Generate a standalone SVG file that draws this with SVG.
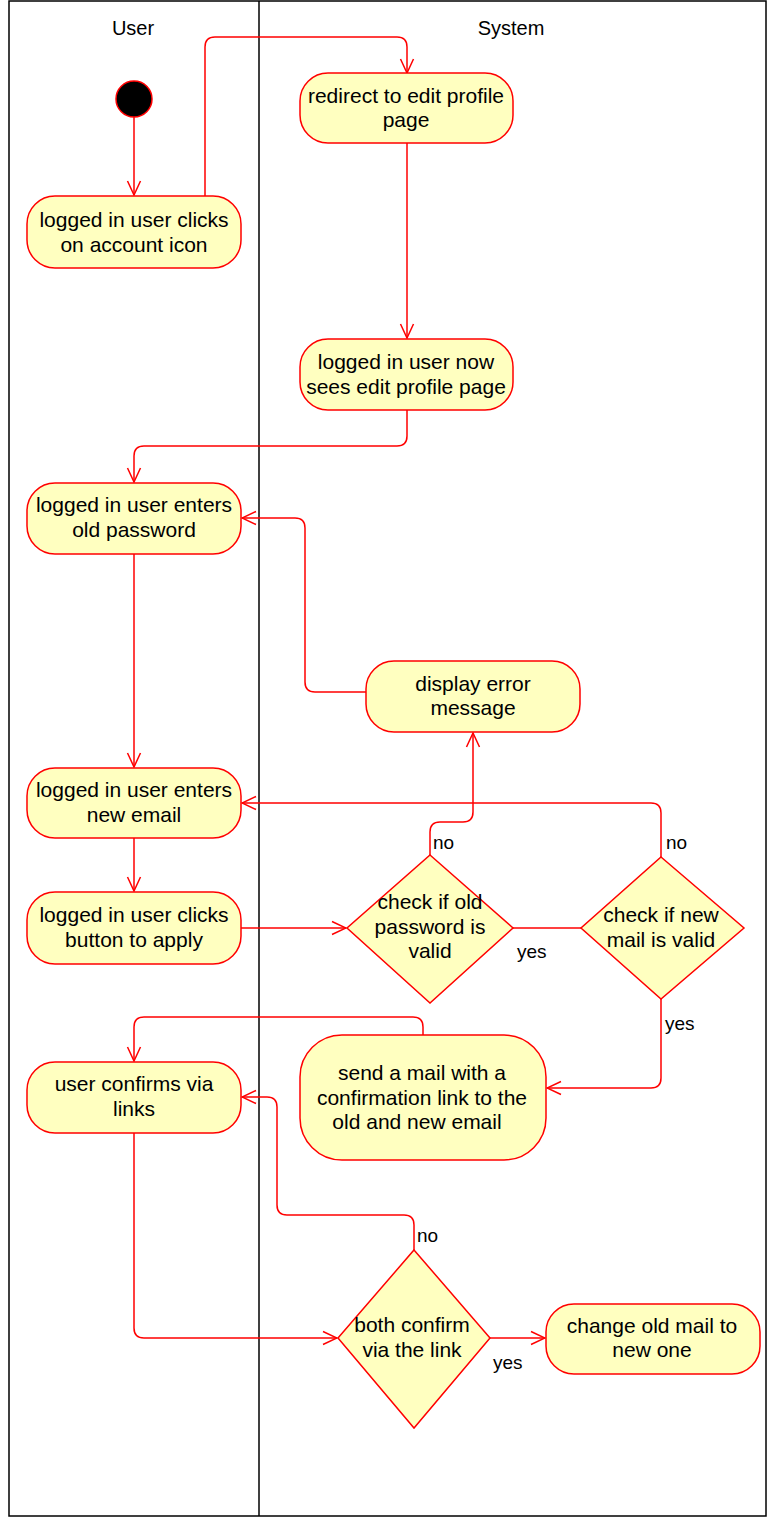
<svg xmlns="http://www.w3.org/2000/svg" width="768" height="1518" viewBox="0 0 768 1518">
<defs>
<style>
.lane{fill:none;stroke:#000;stroke-width:1.5}
.act{fill:#ffffc0;stroke:#ff0000;stroke-width:1.5}
.edge{fill:none;stroke:#ff0000;stroke-width:1.5}
.t{font-family:"Liberation Sans",Arial,sans-serif;font-size:21px;fill:#000;text-anchor:middle}
.h{font-family:"Liberation Sans",Arial,sans-serif;font-size:20px;fill:#000;text-anchor:middle}
.l{font-family:"Liberation Sans",Arial,sans-serif;font-size:19px;fill:#000}
</style>
<marker id="arr" viewBox="0 0 16 16" refX="15" refY="8" markerWidth="16" markerHeight="16" markerUnits="userSpaceOnUse" orient="auto">
<path d="M1,1.5 L15,8 L1,14.5" fill="none" stroke="#ff0000" stroke-width="1.5"/>
</marker>
</defs>
<rect width="768" height="1518" fill="#fff"/>
<g id="swimlanes">
<rect class="lane" x="9" y="1" width="757" height="1515"/>
<line class="lane" x1="259" y1="1" x2="259" y2="1516"/>
<text class="h" x="133" y="35">User</text>
<text class="h" x="511" y="35">System</text>
</g>
<g id="connectors">
<path class="edge" d="M134,117 V195" marker-end="url(#arr)"/>
<path class="edge" d="M205,196 V47 Q205,37 215,37 H397 Q407,37 407,47 V73" marker-end="url(#arr)"/>
<path class="edge" d="M407,143 V338" marker-end="url(#arr)"/>
<path class="edge" d="M407,410 V436 Q407,446 397,446 H144 Q134,446 134,456 V482" marker-end="url(#arr)"/>
<path class="edge" d="M134,554 V767" marker-end="url(#arr)"/>
<path class="edge" d="M366,692 H315 Q305,692 305,682 V528 Q305,518 295,518 H242" marker-end="url(#arr)"/>
<path class="edge" d="M134,838 V891" marker-end="url(#arr)"/>
<path class="edge" d="M241,928 H346" marker-end="url(#arr)"/>
<path class="edge" d="M430,855 V832 Q430,822 440,822 H463 Q473,822 473,812 V733" marker-end="url(#arr)"/>
<path class="edge" d="M513,928 H581"/>
<path class="edge" d="M661,857 V813 Q661,803 651,803 H242" marker-end="url(#arr)"/>
<path class="edge" d="M661,999 V1078 Q661,1088 651,1088 H547" marker-end="url(#arr)"/>
<path class="edge" d="M423,1035 V1027 Q423,1017 413,1017 H144 Q134,1017 134,1027 V1061" marker-end="url(#arr)"/>
<path class="edge" d="M134,1133 V1328 Q134,1338 144,1338 H337" marker-end="url(#arr)"/>
<path class="edge" d="M414,1250 V1225 Q414,1215 404,1215 H287 Q277,1215 277,1205 V1107 Q277,1097 267,1097 H242" marker-end="url(#arr)"/>
<path class="edge" d="M490,1338 H545" marker-end="url(#arr)"/>
<text class="l" x="433" y="849">no</text>
<text class="l" x="666" y="849">no</text>
<text class="l" x="517" y="958">yes</text>
<text class="l" x="665" y="1030">yes</text>
<text class="l" x="417" y="1242">no</text>
<text class="l" x="493" y="1369">yes</text>
</g>
<g id="start">
<circle cx="134" cy="99" r="18" fill="#000" stroke="#ff0000" stroke-width="1.5"/>
</g>
<g id="n1">
<rect class="act" x="27" y="196" width="214" height="72" rx="28"/>
<text class="t" x="134" y="227">logged in user clicks</text>
<text class="t" x="134" y="252">on account icon</text>
</g>
<g id="n2">
<rect class="act" x="300" y="73" width="213" height="70" rx="28"/>
<text class="t" x="406" y="103">redirect to edit profile</text>
<text class="t" x="406" y="127">page</text>
</g>
<g id="n3">
<rect class="act" x="300" y="339" width="213" height="71" rx="28"/>
<text class="t" x="406" y="369">logged in user now</text>
<text class="t" x="406" y="394">sees edit profile page</text>
</g>
<g id="n4">
<rect class="act" x="27" y="483" width="214" height="71" rx="28"/>
<text class="t" x="134" y="512">logged in user enters</text>
<text class="t" x="134" y="537">old password</text>
</g>
<g id="n5">
<rect class="act" x="366" y="661" width="214" height="71" rx="28"/>
<text class="t" x="473" y="691">display error</text>
<text class="t" x="473" y="715">message</text>
</g>
<g id="n6">
<rect class="act" x="27" y="768" width="214" height="70" rx="28"/>
<text class="t" x="134" y="797">logged in user enters</text>
<text class="t" x="134" y="822">new email</text>
</g>
<g id="n7">
<rect class="act" x="27" y="892" width="214" height="72" rx="28"/>
<text class="t" x="134" y="922">logged in user clicks</text>
<text class="t" x="134" y="947">button to apply</text>
</g>
<g id="d1">
<polygon class="act" points="430,855 513,928 430,1003 347,928"/>
<text class="t" x="430" y="909">check if old</text>
<text class="t" x="430" y="934">password is</text>
<text class="t" x="430" y="958">valid</text>
</g>
<g id="d2">
<polygon class="act" points="661,857 744,928 661,999 581,928"/>
<text class="t" x="661" y="922">check if new</text>
<text class="t" x="661" y="947">mail is valid</text>
</g>
<g id="n8">
<rect class="act" x="300" y="1035" width="246" height="125" rx="42"/>
<text class="t" x="422" y="1080">send a mail with a</text>
<text class="t" x="422" y="1105">confirmation link to the</text>
<text class="t" x="417" y="1129">old and new email</text>
</g>
<g id="n9">
<rect class="act" x="27" y="1062" width="214" height="71" rx="28"/>
<text class="t" x="134" y="1091">user confirms via</text>
<text class="t" x="134" y="1116">links</text>
</g>
<g id="d3">
<polygon class="act" points="414,1250 490,1338 414,1428 338,1338"/>
<text class="t" x="412" y="1332">both confirm</text>
<text class="t" x="412" y="1357">via the link</text>
</g>
<g id="n10">
<rect class="act" x="546" y="1304" width="214" height="70" rx="28"/>
<text class="t" x="652" y="1333">change old mail to</text>
<text class="t" x="652" y="1357">new one</text>
</g>
</svg>
